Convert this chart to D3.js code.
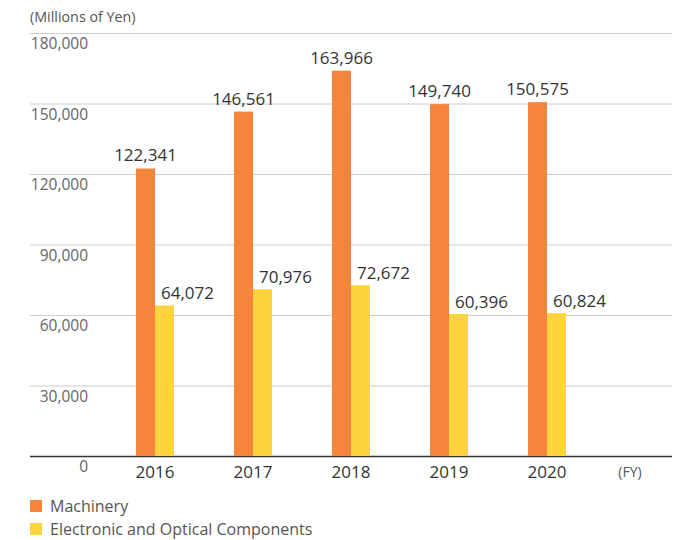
<!DOCTYPE html>
<html><head><meta charset="utf-8">
<script src="https://cdn.jsdelivr.net/npm/d3@7"></script>
<style>body{margin:0;background:#fff;font-family:"Open Sans",sans-serif;}</style>
</head><body>
<svg id="c" width="684" height="540"></svg>
<script>
const years = ["2016","2017","2018","2019","2020"];
const seriesNames = ["Machinery","Electronic and Optical Components"];
const machinery = [122341,146561,163966,149740,150575];
const electronic = [64072,70976,72672,60396,60824];
const yTicks = [0,30000,60000,90000,120000,150000,180000];
const colors = ["#F5843D","#FDD43B"];

const svg = d3.select("#c");
const mLeft = 30, mRight = 672, mTop = 33, mBottom = 456;
const x = d3.scaleBand().domain(years).range([106, 596]).padding(0);
const x1 = d3.scaleBand().domain(seriesNames).range([-19, 19]).padding(0);
const y = d3.scaleLinear().domain([0,180000]).range([mBottom, mTop]);
const fmt = d3.format(",");

svg.append("text").attr("x",30).attr("y",22).attr("font-size",14.3).attr("fill","#555").text("(Millions of Yen)");

const ax = svg.append("g").attr("transform",`translate(${mLeft},0)`)
  .call(d3.axisRight(y).tickValues(yTicks).tickSize(mRight-mLeft).tickFormat(fmt));
ax.select(".domain").remove();
ax.selectAll("line").attr("stroke", d => d===0 ? "#333" : "#ccc").attr("stroke-width", d=> d===0?1.5:1);
ax.selectAll("text").attr("x",58).attr("dy",15.5).attr("text-anchor","end")
  .attr("font-size",15.5).attr("font-family","Open Sans").attr("fill","#666");

const data = years.map((yr,i)=>({yr, vals:[machinery[i], electronic[i]]}));
const groups = svg.selectAll(".g").data(data).join("g")
  .attr("transform", d=>`translate(${x(d.yr)+x.bandwidth()/2},0)`);
groups.selectAll("rect").data(d=>d.vals.map((v,j)=>({v, s:seriesNames[j], j}))).join("rect")
  .attr("x", d=>x1(d.s)).attr("width", x1.bandwidth())
  .attr("y", d=>y(d.v)).attr("height", d=>mBottom - y(d.v))
  .attr("fill", d=>colors[d.j]);
groups.selectAll("text.val").data(d=>d.vals.map((v,j)=>({v, s:seriesNames[j], j}))).join("text")
  .attr("class","val")
  .attr("x", d=> d.j===0 ? x1(d.s)+x1.bandwidth()/2 : x1(d.s)+6)
  .attr("y", d=> y(d.v) - (d.j===0 ? 7 : 6))
  .attr("text-anchor", d=> d.j===0 ? "middle" : "start")
  .attr("font-size",17).attr("fill","#333").text(d=>fmt(d.v));

svg.selectAll("text.yr").data(years).join("text").attr("class","yr")
  .attr("x", d=>x(d)+x.bandwidth()/2).attr("y",478).attr("text-anchor","middle")
  .attr("font-size",17).attr("fill","#333").text(d=>d);
svg.append("text").attr("x",630).attr("y",477).attr("text-anchor","middle")
  .attr("font-size",14).attr("fill","#555").text("(FY)");

const lg = svg.selectAll(".lg").data(seriesNames).join("g").attr("class","lg")
  .attr("transform",(d,i)=>`translate(30,${500+i*23})`);
lg.append("rect").attr("width",12).attr("height",12).attr("fill",(d,i)=>colors[i]);
lg.append("text").attr("x",20).attr("y",12).attr("font-size",16).attr("fill","#555").text(d=>d);
</script>
</body></html>
